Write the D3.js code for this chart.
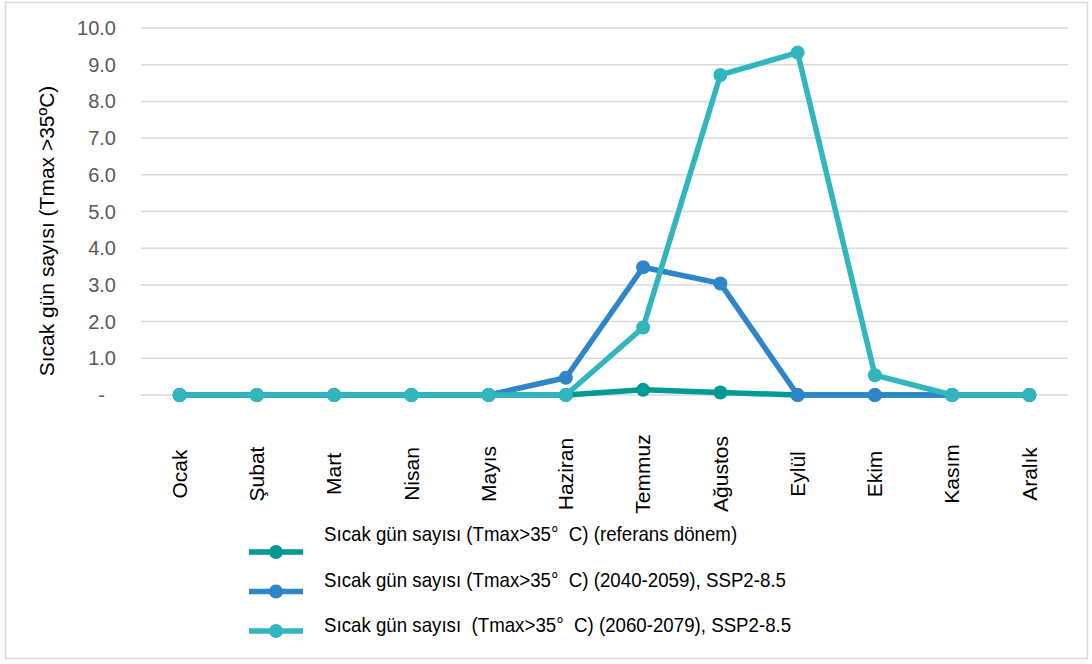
<!DOCTYPE html>
<html>
<head>
<meta charset="utf-8">
<script src="https://cdn.jsdelivr.net/npm/d3@7"></script>
<style>
  body { margin: 0; background: #fff; }
  text { font-family: "Liberation Sans", Arial, sans-serif; }
</style>
</head>
<body>
<div id="chart"></div>
<script>
const months = ['Ocak', 'Şubat', 'Mart', 'Nisan', 'Mayıs', 'Haziran', 'Temmuz', 'Ağustos', 'Eylül', 'Ekim', 'Kasım', 'Aralık']

const refValues = [0, 0, 0, 0, 0, 0, 0.14, 0.07, 0, 0, 0, 0]
const ssp2040 = [0, 0, 0, 0, 0, 0.47, 3.48, 3.04, 0, 0, 0, 0]
const ssp2060 = [0, 0, 0, 0, 0, 0, 1.84, 8.72, 9.33, 0.54, 0, 0]

const seriesNames = [
    'Sıcak gün sayısı (Tmax>35°  C) (referans dönem)',
    'Sıcak gün sayısı (Tmax>35°  C) (2040-2059), SSP2-8.5',
    'Sıcak gün sayısı  (Tmax>35°  C) (2060-2079), SSP2-8.5'
]
const seriesColors = ['#009a93', '#2e86c8', '#31b6bd']
const yTicks = [0, 1, 2, 3, 4, 5, 6, 7, 8, 9, 10]

const width = 1092
const height = 664

const series = [refValues, ssp2040, ssp2060].map((values, i) => ({
    name: seriesNames[i],
    color: seriesColors[i],
    values
}))

const x = d3.scaleBand()
    .domain(months)
    .range([141, 1068])

const y = d3.scaleLinear()
    .domain([0, 10])
    .range([395, 28])

const svg = d3.select('#chart')
    .append('svg')
    .attr('width', width)
    .attr('height', height)

svg.append('rect')
    .attr('x', 5.5)
    .attr('y', 2.5)
    .attr('width', 1082)
    .attr('height', 656)
    .attr('fill', '#fff')
    .attr('stroke', '#d9d9d9')
    .attr('stroke-width', 1.5)

// gridlines
svg.append('g')
    .selectAll('line')
    .data(yTicks)
    .enter()
    .append('line')
    .attr('x1', x.range()[0])
    .attr('x2', x.range()[1])
    .attr('y1', d => y(d))
    .attr('y2', d => y(d))
    .attr('stroke', '#d9d9d9')
    .attr('stroke-width', 1.5)

// y tick labels
svg.append('g')
    .selectAll('text')
    .data(yTicks)
    .enter()
    .append('text')
    .attr('x', d => d === 0 ? 105 : 116)
    .attr('y', d => y(d))
    .attr('dy', '0.35em')
    .attr('text-anchor', 'end')
    .attr('font-size', 20)
    .attr('fill', '#595959')
    .text(d => d === 0 ? '-' : d3.format('.1f')(d))

// y title
svg.append('text')
    .attr('transform', 'translate(54,231) rotate(-90)')
    .attr('text-anchor', 'middle')
    .attr('font-size', 21)
    .attr('fill', '#000')
    .text('Sıcak gün sayısı (Tmax >35ºC)')

// x labels
svg.append('g')
    .selectAll('text')
    .data(months)
    .enter()
    .append('text')
    .attr('transform', d => `translate(${x(d) + x.bandwidth() / 2},474) rotate(-90)`)
    .attr('text-anchor', 'middle')
    .attr('dy', '0.35em')
    .attr('font-size', 21)
    .attr('fill', '#000')
    .text(d => d)

const line = d3.line()
    .x((d, i) => x(months[i]) + x.bandwidth() / 2)
    .y(d => y(d))

const groups = svg.selectAll('g.series')
    .data(series)
    .enter()
    .append('g')
    .attr('class', 'series')

groups.append('path')
    .attr('d', d => line(d.values))
    .attr('fill', 'none')
    .attr('stroke', d => d.color)
    .attr('stroke-width', 5.5)
    .attr('stroke-linejoin', 'round')

groups.selectAll('circle')
    .data(d => d.values.map((v, i) => ({v, i, color: d.color})))
    .enter()
    .append('circle')
    .attr('cx', d => x(months[d.i]) + x.bandwidth() / 2)
    .attr('cy', d => y(d.v))
    .attr('r', 7)
    .attr('fill', d => d.color)

// legend
const legend = svg.append('g')
    .selectAll('g')
    .data(series)
    .enter()
    .append('g')

legend.append('line')
    .attr('x1', 249)
    .attr('x2', 303)
    .attr('y1', (d, i) => 552 + i * 39.5)
    .attr('y2', (d, i) => 552 + i * 39.5)
    .attr('stroke', d => d.color)
    .attr('stroke-width', 5.5)

legend.append('circle')
    .attr('cx', 276)
    .attr('cy', (d, i) => 552 + i * 39.5)
    .attr('r', 7)
    .attr('fill', d => d.color)

legend.append('text')
    .attr('transform', (d, i) => `translate(324,${541 + i * 45.5}) scale(1,1.12)`)
    .attr('font-size', 18.7)
    .attr('fill', '#000')
    .attr('xml:space', 'preserve')
    .style('white-space', 'pre')
    .text(d => d.name)
</script>
</body>
</html>
